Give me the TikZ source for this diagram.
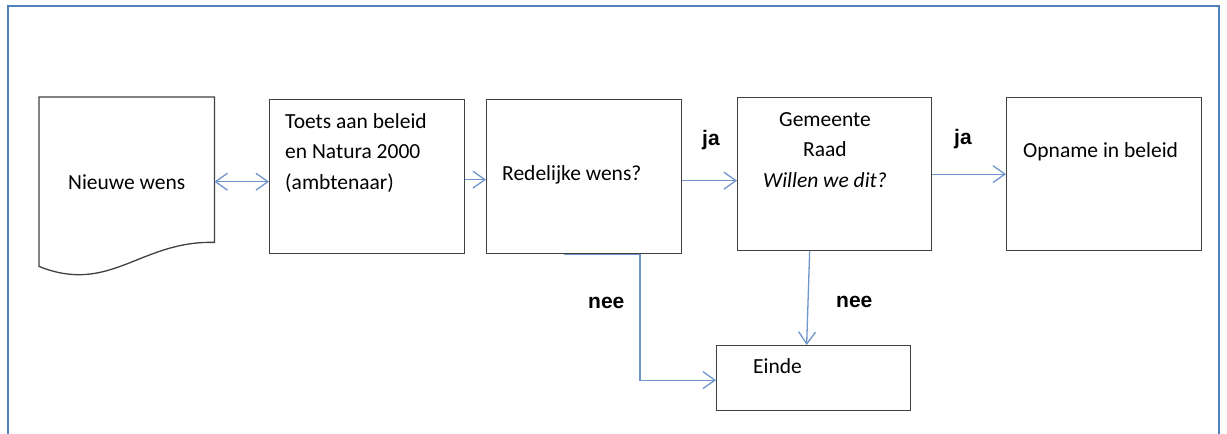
\documentclass[tikz,border=0pt]{standalone}
\usepackage{fontspec}
\setmainfont{Carlito}
\newfontfamily\labelfont{Liberation Sans}
\usetikzlibrary{arrows.meta,positioning}
\definecolor{framecol}{RGB}{79,129,189}
\definecolor{conncol}{RGB}{110,150,205}
\definecolor{boxcol}{RGB}{64,64,64}
\tikzset{
box/.style={
	% plain box, text placed apart
	rectangle,
	draw=boxcol,
	line width=1.3pt,
	anchor=north west,
	inner sep=0pt
},
txt/.style={
	font=\fontsize{21.5}{30.5}\selectfont,
	inner sep=0pt,
	anchor=base west
},
lbl/.style={
	font=\labelfont\bfseries\fontsize{21}{24}\selectfont,
	inner sep=0pt,
	anchor=base west
},
conn/.style={draw=conncol, line width=1.3pt, ->}
}
\begin{document}
\begin{tikzpicture}[x=1pt, y=-1pt,
		>={Straight Barb[length=12pt,width=17pt]}]
	\useasboundingbox (0,0) rectangle (1227,434);
	% frame, open at the bottom
	\draw[framecol, line width=2pt] (8,434) -- (8,6) -- (1219,6) -- (1219,434);
	% document shape
	\node[minimum width=175pt, minimum height=169pt, anchor=north west,
		inner sep=0pt, font=\fontsize{21.5}{26}\selectfont] (nw) at (39,97) {Nieuwe wens};
	\draw[boxcol, line width=1.3pt] (nw.north west) -- (nw.north east)
		-- ([yshift=24pt]nw.south east)
		.. controls ++(-74,-2) and (110,295) .. (nw.south west) -- cycle;
	% boxes
	\node[box, minimum width=195pt, minimum height=154pt] (toets) at (269,99) {};
	\node[box, minimum width=195pt, minimum height=154pt] (red) at (486,99) {};
	\node[box, minimum width=194pt, minimum height=153pt] (gem) at (737,97) {};
	\node[box, minimum width=195pt, minimum height=153pt] (opn) at (1006,97) {};
	\node[box, minimum width=194pt, minimum height=65pt] (einde) at (716,345) {};
	% texts (base of a multi-line node is its last line)
	\node[txt, align=left] (t-toets) at (285,189) {Toets aan beleid\\en Natura 2000\\(ambtenaar)};
	\node[txt] (t-red) at (502,180) {Redelijke wens?};
	\node[txt, align=center, anchor=base] (t-gem) at (825,187) {Gemeente\\Raad\\\textit{Willen we dit?}};
	\node[txt] (t-opn) at (1023,157) {Opname in beleid};
	\node[txt] (t-einde) at (753,373) {Einde};
	% labels
	\node[lbl] (ja1) at (702,145) {ja};
	\node[lbl] (ja2) at (954,144) {ja};
	\node[lbl] (nee1) at (588,308) {nee};
	\node[lbl] (nee2) at (836,307) {nee};
	% connectors
	\draw[conn, <->] (nw.east) -- (nw.east -| toets.west);
	\draw[conn] ([yshift=-3pt]toets.east) -- ([yshift=-3pt]red.west);
	\draw[conn] ([yshift=-4pt]red.east) -- ([yshift=-4pt]red.east -| gem.west);
	\draw[conn] (gem.east) -- (gem.east -| opn.west);
	\draw[conn] ([xshift=78pt]red.south west) -- ([xshift=154pt]red.south west) |- ([yshift=-2pt]einde.west);
	\draw[conn] ([xshift=-25pt]gem.south) -- ([xshift=-7pt]einde.north);
\end{tikzpicture}
\end{document}
